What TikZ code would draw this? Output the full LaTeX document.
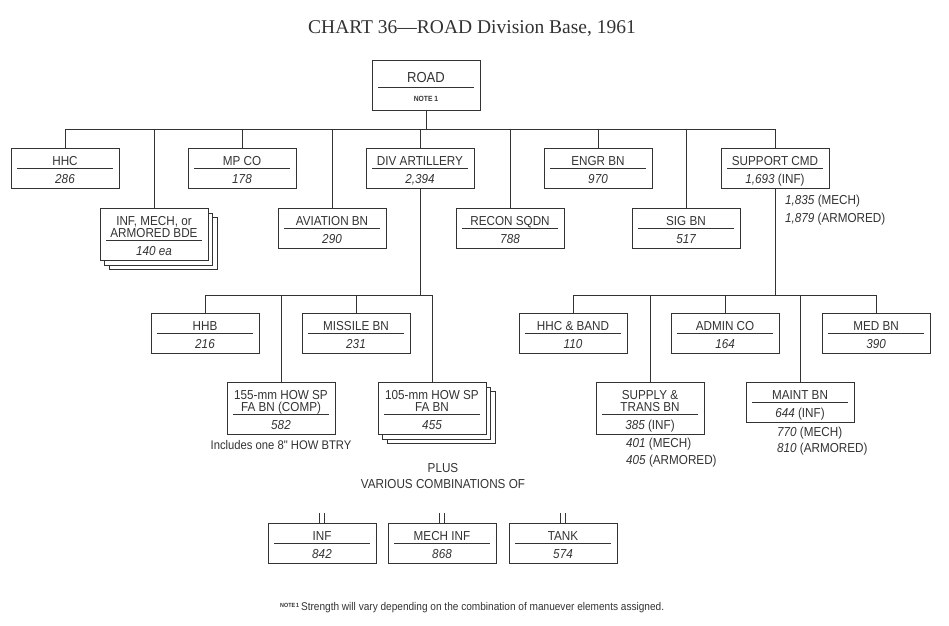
\documentclass[tikz,border=0pt]{standalone}
\usepackage{fontspec}
\usepackage{tikz}
\usetikzlibrary{shadows}
\usetikzlibrary{positioning}
\setmainfont{Liberation Serif}
\newfontfamily\unitfont[FakeStretch=0.9]{Liberation Sans}
\definecolor{mgray}{rgb}{0.2, 0.2, 0.2}
\newcommand{\unitlabel}[2]{\parbox{96pt}{\centering\rule{0pt}{17pt}#1\rule[-3pt]{0pt}{3pt}\par\hrule height 0.7pt\vspace{5pt}\rule{0pt}{9.5pt}\itshape #2\rule[-4.8pt]{0pt}{4.8pt}\par}}

\begin{document}
\begin{tikzpicture}[x=1pt, y=-1pt,
    unit/.style={draw=mgray, line width=0.8pt, fill=white, anchor=north, inner xsep=6pt, inner ysep=0pt, minimum width=108pt, text=mgray, font=\unitfont\fontsize{13}{12}\selectfont},
    stacked/.style={copy shadow={shadow xshift=9pt, shadow yshift=-9pt, draw=mgray, fill=white, line width=0.8pt}, copy shadow={shadow xshift=4.5pt, shadow yshift=-4.5pt, draw=mgray, fill=white, line width=0.8pt}},
    link/.style={mgray, line width=0.8pt},
    remark/.style={text=mgray, inner sep=0pt, font=\unitfont\fontsize{13}{14}\selectfont}]
    \fill [white] (0, 0) rectangle (949, 625);
    \useasboundingbox (0, 0) rectangle (949, 625);

    \node [text=mgray, anchor=base, font=\fontsize{19.5}{22}\selectfont] (title) at (472, 33) {CHART 36—ROAD Division Base, 1961};

    \node [unit] (road) at (426, 60) {\parbox{96pt}{\centering\rule{0pt}{22pt}{\fontsize{14.5}{15}\selectfont ROAD}\rule[-5pt]{0pt}{5pt}\par\hrule height 0.7pt\vspace{8pt}{\bfseries\fontsize{7.5}{8}\selectfont NOTE 1}\rule[-9pt]{0pt}{9pt}\par}};

    \node [unit] (hhc) at (65, 148) {\unitlabel{HHC}{286}};
    \node [unit] (mpco) at (242, 148) {\unitlabel{MP CO}{178}};
    \node [unit] (divart) at (420, 148) {\unitlabel{DIV ARTILLERY}{2,394}};
    \node [unit] (engr) at (598, 148) {\unitlabel{ENGR BN}{970}};
    \node [unit] (supcmd) at (775, 148) {\unitlabel{SUPPORT CMD}{1,693 \upshape(INF)}};

    \node [unit, stacked] (infbde) at (154, 208) {\unitlabel{INF, MECH, or\\ARMORED BDE}{140 ea}};
    \node [unit] (aviation) at (332, 208) {\unitlabel{AVIATION BN}{290}};
    \node [unit] (recon) at (510, 208) {\unitlabel{RECON SQDN}{788}};
    \node [unit] (sig) at (686, 208) {\unitlabel{SIG BN}{517}};

    \node [unit] (hhb) at (205, 313) {\unitlabel{HHB}{216}};
    \node [unit] (missile) at (356, 313) {\unitlabel{MISSILE BN}{231}};
    \node [unit] (how155) at (281, 382) {\unitlabel{155-mm HOW SP\\FA BN (COMP)}{582}};
    \node [unit, stacked] (how105) at (432, 382) {\unitlabel{105-mm HOW SP\\FA BN}{455}};

    \node [unit] (hhcband) at (573, 313) {\unitlabel{HHC \& BAND}{110}};
    \node [unit] (admin) at (725, 313) {\unitlabel{ADMIN CO}{164}};
    \node [unit] (med) at (876, 313) {\unitlabel{MED BN}{390}};
    \node [unit] (suptrans) at (650, 382) {\unitlabel{SUPPLY \&\\TRANS BN}{385 \upshape(INF)}};
    \node [unit] (maint) at (800, 382) {\unitlabel{MAINT BN}{644 \upshape(INF)}};

    \node [unit] (inf) at (322, 523) {\unitlabel{INF}{842}};
    \node [unit] (mechinf) at (442, 523) {\unitlabel{MECH INF}{868}};
    \node [unit] (tank) at (563, 523) {\unitlabel{TANK}{574}};

    \node [remark, anchor=base west] (supmech) at (785, 204) {\textit{1,835} (MECH)};
    \node [remark, anchor=base west] (suparmd) at (785, 222) {\textit{1,879} (ARMORED)};
    \node [remark, anchor=base west] (trnmech) at (626, 447) {\textit{401} (MECH)};
    \node [remark, anchor=base west] (trnarmd) at (626, 464) {\textit{405} (ARMORED)};
    \node [remark, anchor=base west] (mntmech) at (777, 436) {\textit{770} (MECH)};
    \node [remark, anchor=base west] (mntarmd) at (777, 452) {\textit{810} (ARMORED)};
    \node [remark, anchor=base, font=\unitfont\fontsize{12.5}{14}\selectfont] (btry) at (281, 449) {Includes one 8" HOW BTRY};
    \node [remark, anchor=base, align=center, font=\unitfont\fontsize{13}{16}\selectfont] (plus) at (443, 488) {PLUS\\VARIOUS COMBINATIONS OF};
    \node [remark, anchor=base west, font=\unitfont\fontsize{11.2}{13}\selectfont] (note) at (280, 610) {\raisebox{3pt}{\bfseries\fontsize{6}{6}\selectfont NOTE\,1}\,Strength will vary depending on the combination of manuever elements assigned.};

    \coordinate (bus1) at (0, 129);
    \coordinate (bus2) at (0, 295);

    \draw [link] (road.south) -- (road.south |- bus1);
    \draw [link] (hhc.north |- bus1) -- (supcmd.north |- bus1);
    \foreach \n in {hhc, infbde, mpco, aviation, divart, recon, engr, sig, supcmd}
      \draw [link] (\n.north) -- (\n.north |- bus1);

    \draw [link] (divart.south) -- (divart.south |- bus2);
    \draw [link] (hhb.north |- bus2) -- (how105.north |- bus2);
    \foreach \n in {hhb, how155, missile, how105}
      \draw [link] (\n.north) -- (\n.north |- bus2);

    \draw [link] (supcmd.south) -- (supcmd.south |- bus2);
    \draw [link] (hhcband.north |- bus2) -- (med.north |- bus2);
    \foreach \n in {hhcband, suptrans, admin, maint, med}
      \draw [link] (\n.north) -- (\n.north |- bus2);

    \foreach \n in {inf, mechinf, tank} {
      \draw [link] ([xshift=-2.5pt]\n.north) -- ++(0, -10);
      \draw [link] ([xshift=2.5pt]\n.north) -- ++(0, -10);
    }
  \end{tikzpicture}
\end{document}
